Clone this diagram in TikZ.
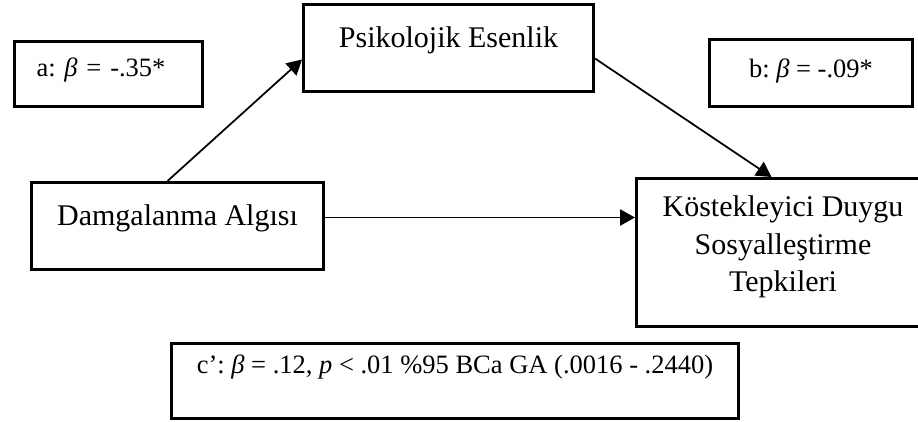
\documentclass[tikz,border=0pt]{standalone}
\usepackage{fontspec}
\setmainfont{Liberation Serif}
\usetikzlibrary{arrows.meta,positioning}

\begin{document}
\begin{tikzpicture}[
   x=0.4pt, y=-0.4pt,
   >={Triangle[length=6pt,width=6.5pt]}, line width=0.7pt,
   box/.style={draw,line width=1.2pt,inner sep=0pt,anchor=north west,
               align=center,font=\fontsize{12}{15}\selectfont\frenchspacing},
   coef/.style={box,text height=14pt,text depth=12pt,
                font=\fontsize{10.6}{13}\selectfont\frenchspacing},
   var/.style={box,minimum width=116pt,text height=17.2pt,text depth=17.6pt},
   pathflow/.style={->},
   ]
\useasboundingbox (0,0) rectangle (918,421);
%% coefficients
\node[coef,align=left,text width=57.6pt,inner xsep=8.8pt] (a) at (13,40) {a: \textit{β} = -.35*};
\node[coef,minimum width=81.2pt,text height=15.2pt,text depth=11.6pt] (b) at (708,38) {b: \textit{β} = -.09*};
%% variables
\node[var] (ps) at (302,3) {Psikolojik Esenlik};
\node[var,minimum width=116.8pt] (dam) at (30,181) {Damgalanma Algısı};
\node[box,minimum width=117.2pt,text height=45.2pt,text depth=14pt] (kos) at (635,177)
   {Köstekleyici Duygu\\Sosyalleştirme\\Tepkileri};
%% direct effect
\node[coef,minimum width=226.8pt,text height=12pt,text depth=18pt] (c) at (170,342)
   {c’: \textit{β} = .12, \textit{p} < .01 \%95 BCa GA (.0016 - .2440)};
%% paths
\draw[pathflow] ([xshift=-4pt]dam.north) -- ([yshift=-4.6pt]ps.west);
\draw[pathflow] ([yshift=-4.2pt]ps.east) -- ([xshift=-4.6pt]kos.north);
\draw[pathflow] ([yshift=3.4pt]dam.east) -- ([yshift=3.4pt]dam.east -| kos.west);
\end{tikzpicture}
\end{document}
